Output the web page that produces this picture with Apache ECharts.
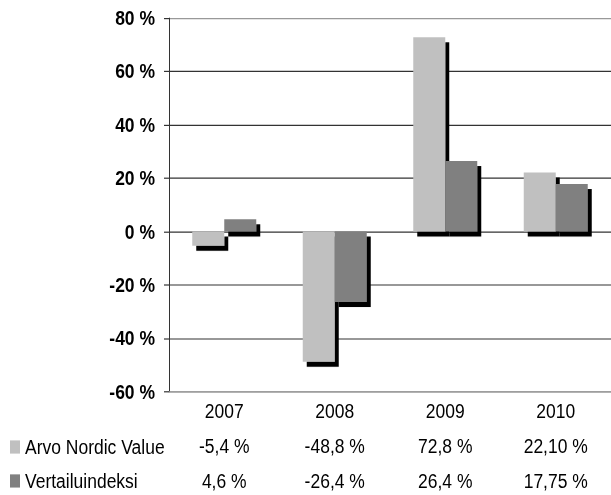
<!DOCTYPE html>
<html>
<head>
<meta charset="utf-8">
<script src="https://cdn.jsdelivr.net/npm/echarts@6/dist/echarts.min.js"></script>
<style>
  html, body { margin: 0; padding: 0; background: #fff; }
  #wrap { width: 611px; height: 495px; position: relative; overflow: visible; }
  /* alkuperäinen kuva on venytetty pystysuunnassa -> piirretään matalampana ja venytetään */
  #chart { position: absolute; left: 0; top: 0; width: 611px; height: 412.5px; transform: scaleY(1.2); transform-origin: 0 0; }
</style>
</head>
<body>
<div id="wrap"><div id="chart"></div></div>
<script>
// vuosituotot: rahasto vs. vertailuindeksi
const years = ['2007', '2008', '2009', '2010']
const arvoNordic = [-5.4, -48.8, 72.8, 22.1]
const vertailu = [4.6, -26.4, 26.4, 17.75]
// taulukon desimaalit kuten alkuperäisessä
const arvoDecimals = [1, 1, 1, 2]
const vertailuDecimals = [1, 1, 1, 2]
const yTicks = [-60, -40, -20, 0, 20, 40, 60, 80]

const SERIES_NAMES = ['Arvo Nordic Value', 'Vertailuindeksi']
const COLOR = ['#c0c0c0', '#808080']
const FONT = '"Liberation Sans", Arial, sans-serif'
const FS = 17.5

const fmt = (v, d) => v.toFixed(d).replace('.', ',') + ' %'

const chart = echarts.init(document.getElementById('chart'), null, { renderer: 'svg' })

const barStyle = (color) => ({
  color,
  shadowColor: '#000',
  shadowBlur: 0,
  shadowOffsetX: 4,
  shadowOffsetY: 4.2,
})

const legendBase = (name, top) => ({
  left: 10,
  top,
  padding: 0,
  itemWidth: 10,
  itemHeight: 11,
  icon: 'rect',
  itemStyle: { shadowColor: 'rgba(0,0,0,0)', shadowOffsetX: 0, shadowOffsetY: 0 },
  textStyle: { fontFamily: FONT, fontSize: FS, lineHeight: 18, color: '#000' },
  data: [name],
  selectedMode: false,
})

chart.setOption({
  animation: false,
  textStyle: { fontFamily: FONT },
  grid: { top: 15, left: 169, right: 0, bottom: 86.7 },
  legend: [
    legendBase(SERIES_NAMES[0], 363.5),
    legendBase(SERIES_NAMES[1], 391.8),
  ],
  xAxis: {
    type: 'category',
    data: years,
    axisLine: { onZero: false, lineStyle: { color: '#999', width: 1 } },
    axisTick: { show: false },
    axisLabel: {
      margin: 2,
      interval: 0,
      formatter: (val, i) =>
        `{t|${val}}\n{t|${fmt(arvoNordic[i], arvoDecimals[i])}}\n{t|${fmt(vertailu[i], vertailuDecimals[i])}}`,
      rich: {
        t: { fontFamily: FONT, fontSize: FS, color: '#000', lineHeight: 29 },
      },
    },
  },
  yAxis: {
    type: 'value',
    min: yTicks[0],
    max: yTicks[yTicks.length - 1],
    interval: 20,
    axisLine: { show: true, lineStyle: { color: '#333' } },
    axisTick: { show: true, length: 5, lineStyle: { color: '#333' } },
    axisLabel: {
      margin: 14,
      fontFamily: FONT,
      fontSize: FS,
      fontWeight: 'bold',
      color: '#000',
      formatter: (v) => v + ' %',
    },
    splitLine: {
      lineStyle: {
        color: ['#999', '#333', '#333', '#333', '#333', '#333', '#333', '#999'],
        width: 1,
      },
    },
  },
  series: [
    {
      name: SERIES_NAMES[0],
      type: 'bar',
      data: arvoNordic,
      barWidth: 32,
      barGap: '0%',
      itemStyle: barStyle(COLOR[0]),
    },
    {
      name: SERIES_NAMES[1],
      type: 'bar',
      data: vertailu,
      barWidth: 32,
      barGap: '0%',
      itemStyle: barStyle(COLOR[1]),
    },
  ],
})
</script>
</body>
</html>
